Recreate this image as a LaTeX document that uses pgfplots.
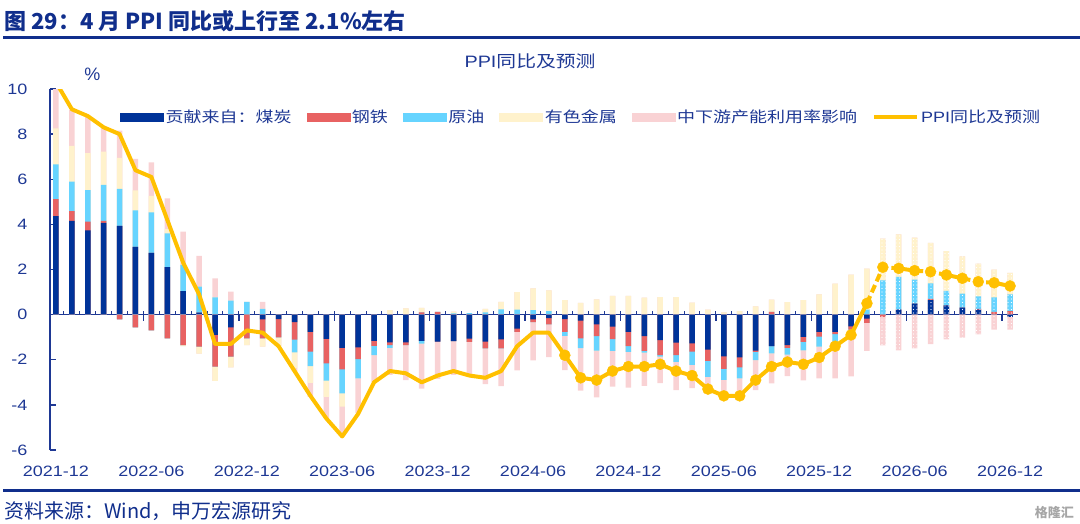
\documentclass[border=0pt]{standalone}
\usepackage{fontspec}
\setmainfont{Liberation Sans}[FakeStretch=1.2]
\newfontfamily\cjk{Noto Sans CJK SC}[FakeStretch=1.2]
\newfontfamily\cjkplain{Noto Sans CJK SC}
\newfontfamily\plainlat{Liberation Sans}
\usepackage{pgfplots}
\pgfplotsset{compat=1.18}
\usepackage{pgfplotstable}
\usetikzlibrary{patterns.meta}

\definecolor{coalc}{RGB}{0,51,153}
\definecolor{steelc}{RGB}{232,98,98}
\definecolor{oilc}{RGB}{102,212,255}
\definecolor{nfc}{RGB}{255,242,204}
\definecolor{pinkc}{RGB}{249,210,212}
\definecolor{linec}{RGB}{255,192,0}
\definecolor{axisc}{RGB}{30,56,148}
\definecolor{titlec}{RGB}{16,46,140}

\pgfplotstableread{
i c s o n p v
0 4.37 0.75 1.54 1.59 2.00 10.3
1 4.15 0.44 1.30 1.59 1.58 9.1
2 3.73 0.39 1.40 1.64 1.61 8.8
3 4.07 0.08 1.60 1.47 1.06 8.3
4 3.93 -0.21 1.64 1.38 1.20 8.0
5 3.00 -0.56 1.62 0.89 1.39 6.4
6 2.74 -0.70 1.79 0.73 1.49 6.1
7 2.11 -1.05 1.49 0.19 1.36 4.2
8 1.04 -1.35 1.16 -0.05 1.48 2.3
9 0.09 -1.42 1.15 -0.31 1.36 0.9
10 -0.90 -1.41 0.77 -0.63 0.84 -1.3
11 -0.56 -1.30 0.62 -0.48 0.40 -1.3
12 0.00 -1.05 0.57 -0.30 0.00 -0.7
13 -0.21 -0.84 0.25 -0.37 0.32 -0.8
14 -0.20 -0.81 0.00 -0.37 0.00 -1.4
15 -0.33 -0.78 -0.56 -0.70 -0.15 -2.5
16 -0.76 -0.88 -0.64 -0.74 -0.62 -3.6
17 -1.08 -1.08 -0.77 -0.71 -0.95 -4.6
18 -1.47 -0.96 -1.06 -0.59 -1.30 -5.4
19 -1.45 -0.52 -0.85 0.00 -1.55 -4.4
20 -1.16 -0.22 -0.41 0.00 -1.20 -3.0
21 -1.23 -0.12 -0.12 0.20 -1.20 -2.5
22 -1.23 -0.12 0.00 0.28 -1.55 -2.6
23 -1.16 0.10 -0.12 0.20 -2.00 -3.0
24 -1.20 0.12 0.00 0.00 -1.65 -2.7
25 -1.17 0.00 0.05 0.08 -1.50 -2.5
26 -1.06 -0.15 0.07 0.00 -1.48 -2.7
27 -1.20 -0.30 0.10 0.15 -1.58 -2.8
28 -1.10 -0.40 0.23 0.34 -1.67 -2.5
29 -0.62 -0.15 0.22 0.78 -1.70 -1.4
30 -0.21 -0.12 0.20 0.96 -1.70 -0.8
31 -0.15 -0.28 0.15 0.93 -1.45 -0.8
32 -0.20 -0.56 -0.18 0.64 -1.52 -1.8
33 -0.27 -0.78 -0.44 0.52 -1.88 -2.8
34 -0.43 -0.52 -0.65 0.68 -2.07 -2.9
35 -0.53 -0.56 -0.52 0.83 -1.58 -2.5
36 -0.76 -0.64 -0.25 0.83 -1.58 -2.3
37 -0.95 -0.66 -0.07 0.75 -1.48 -2.3
38 -1.13 -0.66 -0.07 0.78 -1.18 -2.2
39 -1.24 -0.55 -0.30 0.78 -1.26 -2.5
40 -1.27 -0.37 -0.59 0.53 -1.03 -2.7
41 -1.55 -0.50 -0.71 0.22 -0.66 -3.3
42 -1.85 -0.55 -0.49 0.10 -0.77 -3.6
43 -1.90 -0.44 -0.49 0.15 -0.81 -3.6
44 -1.60 -0.05 -0.37 0.37 -1.33 -2.9
45 -1.40 0.12 -0.32 0.55 -1.33 -2.3
46 -1.35 -0.12 -0.30 0.55 -0.96 -2.1
47 -0.99 -0.22 -0.37 0.64 -1.33 -2.2
48 -0.76 -0.22 -0.44 0.90 -1.40 -1.9
49 -0.76 -0.10 -0.34 1.37 -1.63 -1.4
50 -0.52 -0.15 0.00 1.77 -2.07 -0.9
51 -0.18 -0.19 0.22 1.82 -1.24 0.5
52 0.00 -0.10 1.52 1.85 -1.26 2.1
53 0.22 0.00 1.45 1.89 -1.58 2.05
54 0.49 0.00 1.06 1.86 -1.50 1.95
55 0.64 0.06 0.68 1.80 -1.31 1.9
56 0.41 0.00 0.64 1.77 -1.10 1.76
57 0.31 0.00 0.62 1.65 -1.02 1.61
58 0.22 0.04 0.55 1.45 -0.87 1.46
59 0.00 0.12 0.64 1.24 -0.66 1.41
60 -0.10 0.16 0.74 0.95 -0.56 1.27
}\data

\def\pc{max(\thisrow{c},0)}
\def\ps{max(\thisrow{s},0)}
\def\po{max(\thisrow{o},0)}
\def\pn{max(\thisrow{n},0)}
\def\pp{max(\thisrow{p},0)}
\def\nc{min(\thisrow{c},0)}
\def\ns{min(\thisrow{s},0)}
\def\no{min(\thisrow{o},0)}
\def\nn{min(\thisrow{n},0)}
\def\np{min(\thisrow{p},0)}

\pgfplotsset{mybar/.style={ybar, bar width=5.5pt, bar shift=0pt, draw=none, forget plot}}

\begin{document}
\begin{tikzpicture}
\useasboundingbox (0,0) rectangle (1080pt,523pt);
\node[anchor=base west, inner sep=0pt, text=titlec, font=\fontsize{22}{26}\selectfont\cjkplain\bfseries] at (4pt,493pt) {图 29：4 月 PPI 同比或上行至 2.1\%左右};
\draw[titlec, line width=2.5pt] (3pt,485.5pt) -- (1080pt,485.5pt);
\node[anchor=base, inner sep=0pt, text=axisc, font=\fontsize{16.5}{20}\selectfont] at (530pt,455pt) {PPI{\cjk 同比及预测}};
\node[anchor=center, inner sep=0pt, text=axisc, font=\fontsize{18}{20}\selectfont\plainlat] at (92.5pt,449pt) {\%};

\begin{axis}[
  at={(50pt,73pt)}, anchor=south west,
  scale only axis, width=968pt, height=361pt,
  xmin=-0.377, xmax=60.5, ymin=-6, ymax=10,
  axis x line*=middle, axis y line*=left,
  hide obscured x ticks=false, hide obscured y ticks=false,
  axis line style={draw=axisc, line width=1.4pt},
  ytick={-6,-4,...,10},
  xtick={0,6,...,60},
  xticklabels={2021-12,2022-06,2022-12,2023-06,2023-12,2024-06,2024-12,2025-06,2025-12,2026-06,2026-12},
  minor xtick={0.5,1.5,...,59.5},
  ytick align=inside, xtick align=inside,
  major tick length=6pt, minor tick length=4pt,
  major x tick style={draw=none},
  minor x tick style={draw=axisc, line width=1pt},
  ytick style={draw=axisc, line width=1.3pt},
  tick label style={text=axisc, font=\fontsize{15}{18}\selectfont},
  /pgf/number format/assume math mode=true,
  xticklabel style={anchor=base, yshift=-162pt},
  yticklabel style={xshift=-19pt},
  legend columns=-1,
  legend style={at={(0.0723,0.922)}, anchor=west, draw=none, fill=none, inner sep=0pt,
    font=\fontsize{15}{18}\selectfont, text=axisc,
    /tikz/every even column/.append style={column sep=13pt},
    nodes={inner sep=2pt}},
]
% positive stacks (drawn top-down so lower parts cover)
\addplot[mybar, fill=pinkc] table[x=i, y expr={\pc+\ps+\po+\pn+\pp}] {\data};
\addplot[mybar, fill=nfc] table[x=i, y expr={\pc+\ps+\po+\pn}] {\data};
\addplot[mybar, fill=oilc] table[x=i, y expr={\pc+\ps+\po}] {\data};
\addplot[mybar, fill=steelc] table[x=i, y expr={\pc+\ps}] {\data};
\addplot[mybar, fill=coalc] table[x=i, y expr={\pc}] {\data};
% negative stacks
\addplot[mybar, fill=pinkc] table[x=i, y expr={\nc+\ns+\no+\nn+\np}] {\data};
\addplot[mybar, fill=nfc] table[x=i, y expr={\nc+\ns+\no+\nn}] {\data};
\addplot[mybar, fill=oilc] table[x=i, y expr={\nc+\ns+\no}] {\data};
\addplot[mybar, fill=steelc] table[x=i, y expr={\nc+\ns}] {\data};
\addplot[mybar, fill=coalc] table[x=i, y expr={\nc}] {\data};
% forecast pattern
\addplot[mybar, pattern={Dots[distance=3.5pt, radius=0.65pt]}, pattern color=white, restrict x to domain=51.5:60.5] table[x=i, y expr={\pc+\ps+\po+\pn+\pp}] {\data};
\addplot[mybar, pattern={Dots[distance=3.5pt, radius=0.65pt]}, pattern color=white, restrict x to domain=51.5:60.5] table[x=i, y expr={\nc+\ns+\no+\nn+\np}] {\data};
% long half-year ticks below the zero line
\addplot[ycomb, draw=axisc, line width=1.3pt, no marks, forget plot] coordinates {(5.5,-0.27) (11.5,-0.27) (17.5,-0.27) (23.5,-0.27) (29.5,-0.27) (35.5,-0.27) (41.5,-0.27) (47.5,-0.27) (53.5,-0.27) (59.5,-0.27)};
% PPI line
\addplot[linec, line width=4pt, line join=round, no marks, forget plot, restrict x to domain=0:51] table[x=i, y=v] {\data};
\addplot[linec, line width=4pt, no marks, forget plot, dash pattern=on 8pt off 4pt, restrict x to domain=51:60] table[x=i, y=v] {\data};
\addplot[only marks, mark=*, mark size=5.5pt, mark options={fill=linec, draw=linec}, forget plot, restrict x to domain=32:60] table[x=i, y=v] {\data};

\addlegendimage{legend image code/.code={\fill[coalc] (0pt,-4pt) rectangle (43pt,4pt);}}
\addlegendentry{{\cjk 贡献来自：煤炭}}
\addlegendimage{legend image code/.code={\fill[steelc] (0pt,-4pt) rectangle (43pt,4pt);}}
\addlegendentry{{\cjk 钢铁}}
\addlegendimage{legend image code/.code={\fill[oilc] (0pt,-4pt) rectangle (43pt,4pt);}}
\addlegendentry{{\cjk 原油}}
\addlegendimage{legend image code/.code={\fill[nfc] (0pt,-4pt) rectangle (43pt,4pt);}}
\addlegendentry{{\cjk 有色金属}}
\addlegendimage{legend image code/.code={\fill[pinkc] (0pt,-4pt) rectangle (43pt,4pt);}}
\addlegendentry{{\cjk 中下游产能利用率影响}}
\addlegendimage{legend image code/.code={\draw[linec, line width=4pt] (0pt,0pt) -- (43pt,0pt);}}
\addlegendentry{PPI{\cjk 同比及预测}}
\end{axis}

\draw[titlec, line width=3pt] (3pt,32.5pt) -- (1080pt,32.5pt);
\node[anchor=base west, inner sep=0pt, text=titlec, font=\fontsize{20}{24}\selectfont\cjkplain] at (4pt,4.5pt) {资料来源：Wind，申万宏源研究};
\node[anchor=base east, inner sep=0pt, text=black!35, font=\fontsize{13}{15}\selectfont\cjkplain\bfseries] at (1074pt,6pt) {格隆汇};
\end{tikzpicture}
\end{document}
